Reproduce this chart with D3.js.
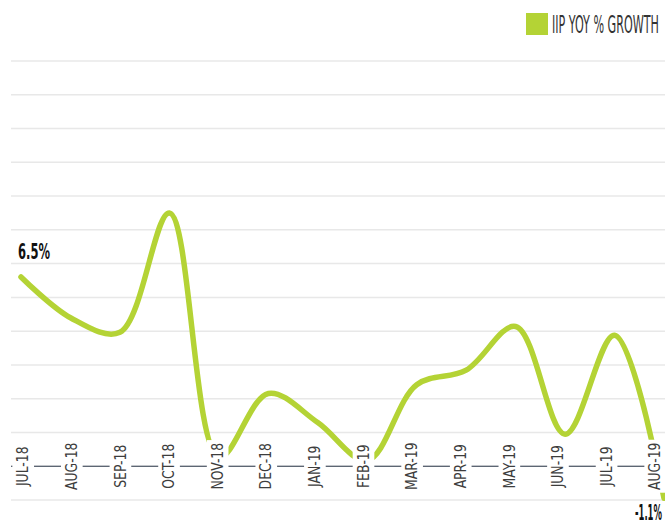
<!DOCTYPE html>
<html>
<head>
<meta charset="utf-8">
<script src="https://cdn.jsdelivr.net/npm/d3@7"></script>
<style>
  body { margin: 0; background: #fff; }
  svg { display: block; font-family: "Liberation Sans Narrow", "DejaVu Sans Condensed", sans-serif; }
  .grid line { stroke: #e8e8e8; stroke-width: 1.5; }
  .month text { fill: #3d3d3d; font-size: 15px; }
</style>
</head>
<body>
<svg id="chart"></svg>
<script>
// IIP year-on-year growth, %
const months = ["JUL-18", "AUG-18", "SEP-18", "OCT-18", "NOV-18", "DEC-18", "JAN-19",
                "FEB-19", "MAR-19", "APR-19", "MAY-19", "JUN-19", "JUL-19", "AUG-19"];
const growth = [6.5, 5.1, 4.6, 8.7, 0.3, 2.5, 1.5, 0.2, 2.8, 3.3, 4.8, 1.1, 4.5, -1.1];
const seriesName = "IIP YOY % GROWTH";

const width = 665, height = 524;
const green = "#b4d335";

const svg = d3.select("#chart").attr("width", width).attr("height", height);

// points and month labels don't share exactly the same spacing in the original
const x = d3.scalePoint().domain(months).range([21, 664]);
const xLabel = d3.scalePoint().domain(months).range([23, 655]);

const y = d3.scaleLinear()
  .domain([-1.16, 13.92])
  .range([500, 61]);

// horizontal grid, 14 evenly spaced lines
const gridCount = 14;
const gridY = d3.range(gridCount).map(i => 61 + i * (500 - 61) / (gridCount - 1));
svg.append("g").attr("class", "grid")
  .selectAll("line")
  .data(gridY)
  .join("line")
    .attr("x1", 11).attr("x2", width)
    .attr("y1", d => d).attr("y2", d => d);

// zero line
svg.append("line")
  .attr("x1", 11).attr("x2", width)
  .attr("y1", y(0)).attr("y2", y(0))
  .attr("stroke", "#2f3b4c").attr("stroke-width", 1.2);

// the series
const line = d3.line()
  .x((d, i) => x(months[i]))
  .y(d => y(d))
  .curve(d3.curveCatmullRom.alpha(0.5));

svg.append("path")
  .datum(growth)
  .attr("d", line)
  .attr("fill", "none")
  .attr("stroke", green)
  .attr("stroke-width", 5.5)
  .attr("stroke-linecap", "round")
  .attr("stroke-linejoin", "round");

// month labels sit on the zero line with a white box that hides the line
const month = svg.append("g").attr("class", "month")
  .selectAll("g")
  .data(months)
  .join("g")
    .attr("transform", d => `translate(${xLabel(d)},${y(0)}) rotate(-90) scale(0.92,1)`);

month.append("text")
  .attr("text-anchor", "middle")
  .attr("dy", "0.36em")
  .text(d => d);

month.each(function() {
  const g = d3.select(this);
  const b = g.select("text").node().getBBox();
  g.insert("rect", "text")
    .attr("x", b.x - 3).attr("y", b.y - 2.5)
    .attr("width", b.width + 6).attr("height", b.height + 5)
    .attr("fill", "#fff");
});

// value labels on the first and last point
const first = 0, last = growth.length - 1;

svg.append("text")
  .attr("x", x(months[first]) - 3)
  .attr("y", y(growth[first]) - 18)
  .attr("font-size", 22).attr("font-weight", "bold").attr("fill", "#111")
  .attr("textLength", 32).attr("lengthAdjust", "spacingAndGlyphs")
  .text(growth[first].toFixed(1) + "%");

svg.append("text")
  .attr("x", x(months[last]) - 2)
  .attr("y", y(growth[last]) + 22)
  .attr("text-anchor", "end")
  .attr("font-size", 22).attr("font-weight", "bold").attr("fill", "#111")
  .attr("textLength", 27).attr("lengthAdjust", "spacingAndGlyphs")
  .text(growth[last].toFixed(1) + "%");

// legend
const legend = svg.append("g").attr("transform", "translate(526,13)");
legend.append("rect")
  .attr("width", 22).attr("height", 22)
  .attr("fill", green);
legend.append("text")
  .attr("x", 26).attr("y", 20)
  .attr("font-size", 24).attr("fill", "#333")
  .attr("textLength", 107).attr("lengthAdjust", "spacingAndGlyphs")
  .text(seriesName);
</script>
</body>
</html>
